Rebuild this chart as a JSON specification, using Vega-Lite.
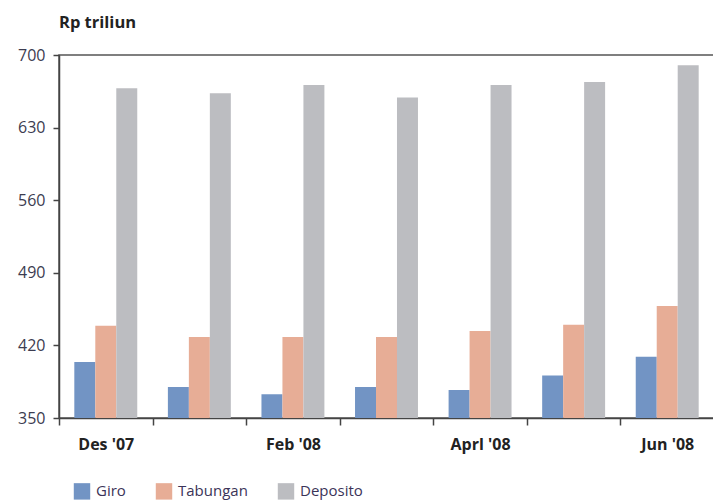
{
  "$schema": "https://vega.github.io/schema/vega-lite/v6.json",
  "width": 655,
  "height": 363,
  "padding": {"left": 17, "top": 14, "right": 0, "bottom": 0},
  "background": "white",
  "title": {
    "text": "Rp triliun",
    "anchor": "start",
    "frame": "group",
    "fontSize": 16.5,
    "fontWeight": "bold",
    "font": "Open Sans",
    "color": "#222222",
    "offset": 16
  },
  "config": {
    "view": {"stroke": "#555555", "strokeWidth": 1.5},
    "font": "Open Sans"
  },
  "data": {
    "values": [
      {"bulan": "Des '07", "jenis": "Giro", "nilai": 404},
      {"bulan": "Des '07", "jenis": "Tabungan", "nilai": 439},
      {"bulan": "Des '07", "jenis": "Deposito", "nilai": 668},
      {"bulan": "Jan '08", "jenis": "Giro", "nilai": 380},
      {"bulan": "Jan '08", "jenis": "Tabungan", "nilai": 428},
      {"bulan": "Jan '08", "jenis": "Deposito", "nilai": 663},
      {"bulan": "Feb '08", "jenis": "Giro", "nilai": 373},
      {"bulan": "Feb '08", "jenis": "Tabungan", "nilai": 428},
      {"bulan": "Feb '08", "jenis": "Deposito", "nilai": 671},
      {"bulan": "Mar '08", "jenis": "Giro", "nilai": 380},
      {"bulan": "Mar '08", "jenis": "Tabungan", "nilai": 428},
      {"bulan": "Mar '08", "jenis": "Deposito", "nilai": 659},
      {"bulan": "Aprl '08", "jenis": "Giro", "nilai": 377},
      {"bulan": "Aprl '08", "jenis": "Tabungan", "nilai": 434},
      {"bulan": "Aprl '08", "jenis": "Deposito", "nilai": 671},
      {"bulan": "Mei '08", "jenis": "Giro", "nilai": 391},
      {"bulan": "Mei '08", "jenis": "Tabungan", "nilai": 440},
      {"bulan": "Mei '08", "jenis": "Deposito", "nilai": 674},
      {"bulan": "Jun '08", "jenis": "Giro", "nilai": 409},
      {"bulan": "Jun '08", "jenis": "Tabungan", "nilai": 458},
      {"bulan": "Jun '08", "jenis": "Deposito", "nilai": 690}
    ]
  },
  "mark": {"type": "bar", "clip": true},
  "encoding": {
    "x": {
      "field": "bulan",
      "type": "nominal",
      "sort": null,
      "scale": {"paddingInner": 0, "paddingOuter": 0},
      "axis": {
        "title": null,
        "labelAngle": 0,
        "tickBand": "extent",
        "tickSize": 7,
        "tickColor": "#444444",
        "tickWidth": 1.5,
        "domainColor": "#444444",
        "domainWidth": 1.5,
        "labelFontSize": 16,
        "labelFontWeight": "bold",
        "labelColor": "#222222",
        "labelPadding": 11,
        "labelOverlap": false,
        "labelExpr": "(datum.value == 'Jan \\'08' || datum.value == 'Mar \\'08' || datum.value == 'Mei \\'08') ? '' : datum.label"
      }
    },
    "xOffset": {
      "field": "jenis",
      "type": "nominal",
      "sort": ["Giro", "Tabungan", "Deposito"],
      "scale": {"paddingInner": 0, "paddingOuter": 0.73}
    },
    "y": {
      "field": "nilai",
      "type": "quantitative",
      "scale": {"domain": [350, 700], "nice": false, "zero": false},
      "axis": {
        "title": null,
        "values": [350, 420, 490, 560, 630, 700],
        "grid": false,
        "tickSize": 6,
        "tickColor": "#444444",
        "tickWidth": 1.5,
        "domainColor": "#444444",
        "domainWidth": 1.5,
        "labelFontSize": 16,
        "labelColor": "#3c3c50",
        "labelPadding": 8
      }
    },
    "color": {
      "field": "jenis",
      "type": "nominal",
      "sort": ["Giro", "Tabungan", "Deposito"],
      "scale": {
        "domain": ["Giro", "Tabungan", "Deposito"],
        "range": ["#7294c4", "#e7ad96", "#bcbdc1"]
      },
      "legend": {
        "title": null,
        "orient": "none",
        "direction": "horizontal",
        "legendX": 14,
        "legendY": 427,
        "symbolType": "square",
        "symbolSize": 270,
        "labelFontSize": 15,
        "labelColor": "#3b3458",
        "labelOffset": 5,
        "columnPadding": 29
      }
    }
  }
}
